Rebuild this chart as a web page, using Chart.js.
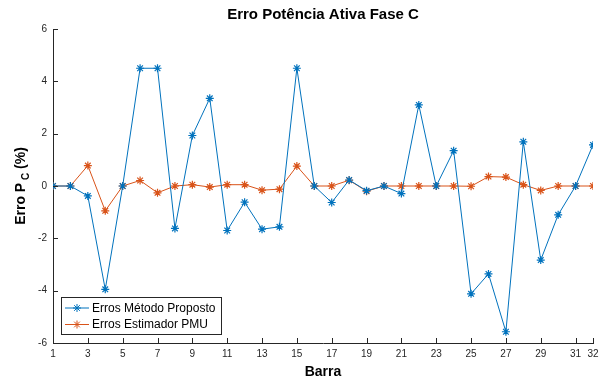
<!DOCTYPE html>
<html>
<head>
<meta charset="utf-8">
<script src="https://cdn.jsdelivr.net/npm/chart.js@4/dist/chart.umd.min.js"></script>
<style>
  html, body { margin: 0; padding: 0; background: #fff; }
  #wrap { width: 607px; height: 378px; position: relative; }
</style>
</head>
<body>
<div id="wrap"><canvas id="c" width="607" height="378"></canvas></div>
<script>
const barras = [1,2,3,4,5,6,7,8,9,10,11,12,13,14,15,16,17,18,19,20,21,22,23,24,25,26,27,28,29,30,31,32];
const errosMetodoProposto = [0, 0, -0.38, -3.95, 0, 4.5, 4.5, -1.62, 1.93, 3.35, -1.7, -0.62, -1.65, -1.56, 4.5, 0, -0.63, 0.23, -0.18, 0, -0.29, 3.1, 0, 1.35, -4.12, -3.36, -5.57, 1.69, -2.83, -1.1, 0, 1.57];
const errosEstimadorPMU = [0, 0, 0.78, -0.95, 0, 0.21, -0.26, 0, 0.05, -0.04, 0.05, 0.05, -0.16, -0.12, 0.76, 0, 0, 0.22, -0.2, 0, 0, 0, 0, 0, -0.01, 0.36, 0.34, 0.05, -0.17, 0, 0, 0];
const xTickValues = [1,3,5,7,9,11,13,15,17,19,21,23,25,27,29,31,32];
const yTickValues = [-6,-4,-2,0,2,4,6];
const titleText = 'Erro Potência Ativa Fase C';
const xLabel = 'Barra';
const legendLabels = ['Erros Método Proposto', 'Erros Estimador PMU'];

const FONT = '"Liberation Sans", Arial, Helvetica, sans-serif';
const AXIS = '#262626';

const innerTicks = {
  id: 'innerTicks',
  afterDatasetsDraw(chart) {
    const ctx = chart.ctx, x = chart.scales.x, y = chart.scales.y;
    const a = chart.chartArea;
    ctx.save();
    ctx.strokeStyle = AXIS;
    ctx.lineWidth = 1;
    ctx.beginPath();
    xTickValues.forEach(v => {
      const px = Math.round(x.getPixelForValue(v)) + 0.5;
      ctx.moveTo(px, a.bottom); ctx.lineTo(px, a.bottom - 5);
    });
    yTickValues.forEach(v => {
      const py = Math.round(y.getPixelForValue(v)) + 0.5;
      ctx.moveTo(a.left, py); ctx.lineTo(a.left + 5, py);
    });
    ctx.stroke();
    ctx.restore();
  }
};

const texts = {
  id: 'texts',
  afterDraw(chart) {
    const ctx = chart.ctx, a = chart.chartArea;
    ctx.save();
    ctx.fillStyle = '#000';
    ctx.textAlign = 'center';
    ctx.textBaseline = 'middle';
    ctx.font = 'bold 15px ' + FONT;
    ctx.fillText(titleText, (a.left + a.right) / 2, 15);
    ctx.font = 'bold 14px ' + FONT;
    ctx.fillText(xLabel, (a.left + a.right) / 2, 372);
    // y label with subscript
    ctx.translate(21, 186);
    ctx.rotate(-Math.PI / 2);
    const f1 = 'bold 14px ' + FONT, f2 = 'bold 10px ' + FONT;
    ctx.font = f1; const w1 = ctx.measureText('Erro P').width;
    const w3 = ctx.measureText(' (%)').width;
    ctx.font = f2; const w2 = ctx.measureText(' C').width;
    let sx = -(w1 + w2 + w3) / 2;
    ctx.textAlign = 'left';
    ctx.font = f1; ctx.fillText('Erro P', sx, 0); sx += w1;
    ctx.font = f2; ctx.fillText(' C', sx, 5); sx += w2;
    ctx.font = f1; ctx.fillText(' (%)', sx, 0);
    ctx.restore();

    // legend
    ctx.save();
    const lx = 61.5, ly = 297.5, lw = 160, lh = 37;
    ctx.fillStyle = '#fff';
    ctx.fillRect(lx, ly, lw, lh);
    ctx.strokeStyle = '#262626';
    ctx.lineWidth = 1;
    ctx.strokeRect(lx, ly, lw, lh);
    chart.data.datasets.forEach((ds, i) => {
      const ry = 308 + i * 16.5;
      ctx.strokeStyle = ds.borderColor;
      ctx.lineWidth = 1;
      ctx.beginPath(); ctx.moveTo(65, ry); ctx.lineTo(89, ry); ctx.stroke();
      Chart.helpers.drawPoint(ctx, {pointStyle: 'star', radius: 4, borderWidth: 1}, 77, ry);
      ctx.fillStyle = '#000';
      ctx.font = '12px ' + FONT;
      ctx.textAlign = 'left';
      ctx.textBaseline = 'middle';
      ctx.fillText(legendLabels[i], 92, ry + 0.5);
    });
    ctx.restore();
  }
};

const mk = (arr) => arr.map((v, i) => ({x: barras[i], y: v}));

new Chart(document.getElementById('c'), {
  type: 'line',
  data: {
    datasets: [
      { label: legendLabels[0], data: mk(errosMetodoProposto), borderColor: '#0072BD', backgroundColor: '#0072BD',
        borderWidth: 1, pointStyle: 'star', pointRadius: 4, pointBorderWidth: 1.2, pointBorderColor: '#0072BD', tension: 0 },
      { label: legendLabels[1], data: mk(errosEstimadorPMU), borderColor: '#D95319', backgroundColor: '#D95319',
        borderWidth: 1, pointStyle: 'star', pointRadius: 4, pointBorderWidth: 1.2, pointBorderColor: '#D95319', tension: 0 }
    ]
  },
  options: {
    responsive: false,
    animation: false,
    layout: { padding: { top: 29, right: 14, left: 0, bottom: 0 } },
    plugins: { legend: { display: false }, title: { display: false }, tooltip: { enabled: false } },
    scales: {
      x: {
        type: 'linear', min: 1, max: 32,
        afterBuildTicks: (s) => { s.ticks = xTickValues.map(v => ({value: v})); },
        afterFit: (s) => { s.height = 35; },
        grid: { display: false, drawTicks: false },
        border: { display: true, color: AXIS, width: 1 },
        ticks: { padding: 5, color: AXIS, font: { family: FONT, size: 10 }, maxRotation: 0, autoSkip: false,
                 callback: (v) => String(v) },
        title: { display: false }
      },
      y: {
        type: 'linear', min: -6, max: 6,
        afterBuildTicks: (s) => { s.ticks = yTickValues.map(v => ({value: v})); },
        afterFit: (s) => { s.width = 53; },
        grid: { display: false, drawTicks: false },
        border: { display: true, color: AXIS, width: 1 },
        ticks: { padding: 6, color: AXIS, font: { family: FONT, size: 10 }, autoSkip: false }
      }
    }
  },
  plugins: [innerTicks, texts]
});
</script>
</body>
</html>
